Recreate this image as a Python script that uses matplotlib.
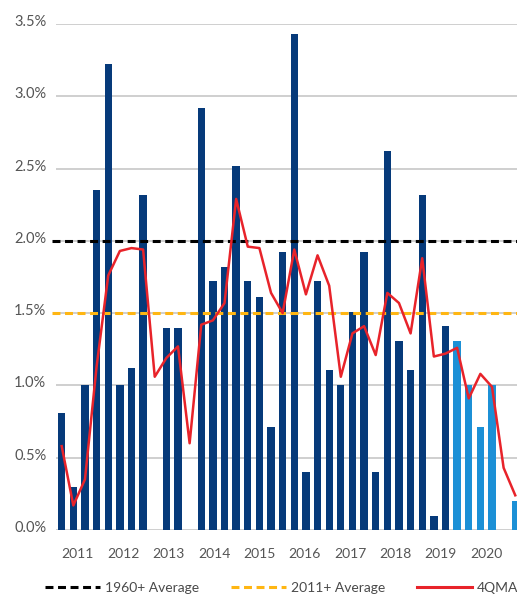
import numpy as np
import matplotlib
matplotlib.use("Agg")
import matplotlib.pyplot as plt
from matplotlib.lines import Line2D
from matplotlib.ticker import FuncFormatter
import matplotlib.transforms as mtransforms

plt.rcParams['font.family'] = ['Lato', 'DejaVu Sans']

# ---- data ----
years = ["2011", "2012", "2013", "2014", "2015", "2016", "2017", "2018", "2019", "2020"]
quarters = [f"{y}Q{q}" for y in years for q in range(1, 5)]
growth = [0.81, 0.30, 1.00, 2.35,
          3.22, 1.00, 1.12, 2.32,
          0.00, 1.40, 1.40, 0.00,
          2.92, 1.72, 1.82, 2.52,
          1.72, 1.61, 0.71, 1.92,
          3.43, 0.40, 1.72, 1.11,
          1.00, 1.51, 1.92, 0.40,
          2.62, 1.31, 1.11, 2.32,
          0.10, 1.41, 1.31, 1.00,
          0.71, 1.00, 0.00, 0.20]
qma4 = [0.58, 0.17, 0.35, 1.13,
        1.76, 1.93, 1.95, 1.94,
        1.06, 1.19, 1.27, 0.60,
        1.42, 1.45, 1.57, 2.29,
        1.96, 1.95, 1.64, 1.50,
        1.94, 1.63, 1.90, 1.69,
        1.06, 1.36, 1.41, 1.21,
        1.64, 1.57, 1.36, 1.88,
        1.20, 1.22, 1.26, 0.91,
        1.08, 0.99, 0.43, 0.24]
n_actual = 34          # first 34 quarters actual, rest forecast
avg_1960 = 2.0
avg_2011 = 1.5
legend_labels = ["1960+ Average", "2011+ Average", "4QMA"]

# ---- style ----
DARK = "#063a7a"
LIGHT = "#1c90d6"
GOLD = "#ffb612"
RED = "#e8232a"
GRID = "#c2c2c2"
TXT = "#555555"

W, H = 517, 596
fig = plt.figure(figsize=(W / 100, H / 100), dpi=100)
ax = fig.add_axes([56 / W, (H - 530) / H, (W - 56) / W, (530 - 24) / H])

x = np.arange(len(quarters))
colors = [DARK if i < n_actual else LIGHT for i in range(len(quarters))]
ax.bar(x, growth, width=0.63, color=colors, zorder=2)

dash_kw = dict(lw=2.2, dashes=(2.6, 1.5), zorder=3, clip_on=False)
ax.axhline(avg_1960, xmin=-0.008, xmax=1, color="black", **dash_kw)
ax.axhline(avg_2011, xmin=-0.008, xmax=1, color=GOLD, **dash_kw)
ax.plot(x, qma4, color=RED, lw=1.8, zorder=4, clip_on=False)

ax.set_xlim(-0.49, 39.15)
ax.set_ylim(0, 3.5)
ax.set_yticks(np.arange(0, 3.51, 0.5))
ax.yaxis.set_major_formatter(FuncFormatter(lambda v, p: f"{v:.1f}%"))
ax.yaxis.grid(True, color=GRID, lw=1.1, zorder=0)
ax.set_axisbelow(True)
for s in ax.spines.values():
    s.set_visible(False)

year_pos = 1.4 + 3.9 * np.arange(len(years))
ax.set_xticks(year_pos)
ax.set_xticklabels(years)
ax.tick_params(axis="x", length=0, pad=13, labelsize=10, labelcolor=TXT)
ax.tick_params(axis="y", length=0, pad=7, labelsize=10.5, labelcolor=TXT)
off = mtransforms.ScaledTranslation(0, 2.5 / 72, fig.dpi_scale_trans)
for lab in ax.get_yticklabels():
    lab.set_transform(lab.get_transform() + off)

handles = [Line2D([], [], color="black", lw=2.2, dashes=(2.6, 1.5)),
           Line2D([], [], color=GOLD, lw=2.2, dashes=(2.6, 1.5)),
           Line2D([], [], color=RED, lw=2.2)]
leg = fig.legend(handles, legend_labels, loc="center left",
                 bbox_to_anchor=(45 / W, 8 / H), ncol=3, frameon=False,
                 fontsize=10, handlelength=3.95, handletextpad=0.36,
                 columnspacing=2.3, borderpad=0, borderaxespad=0)
for t in leg.get_texts():
    t.set_color("#4a4a4a")

fig.savefig("out.png", dpi=100)
